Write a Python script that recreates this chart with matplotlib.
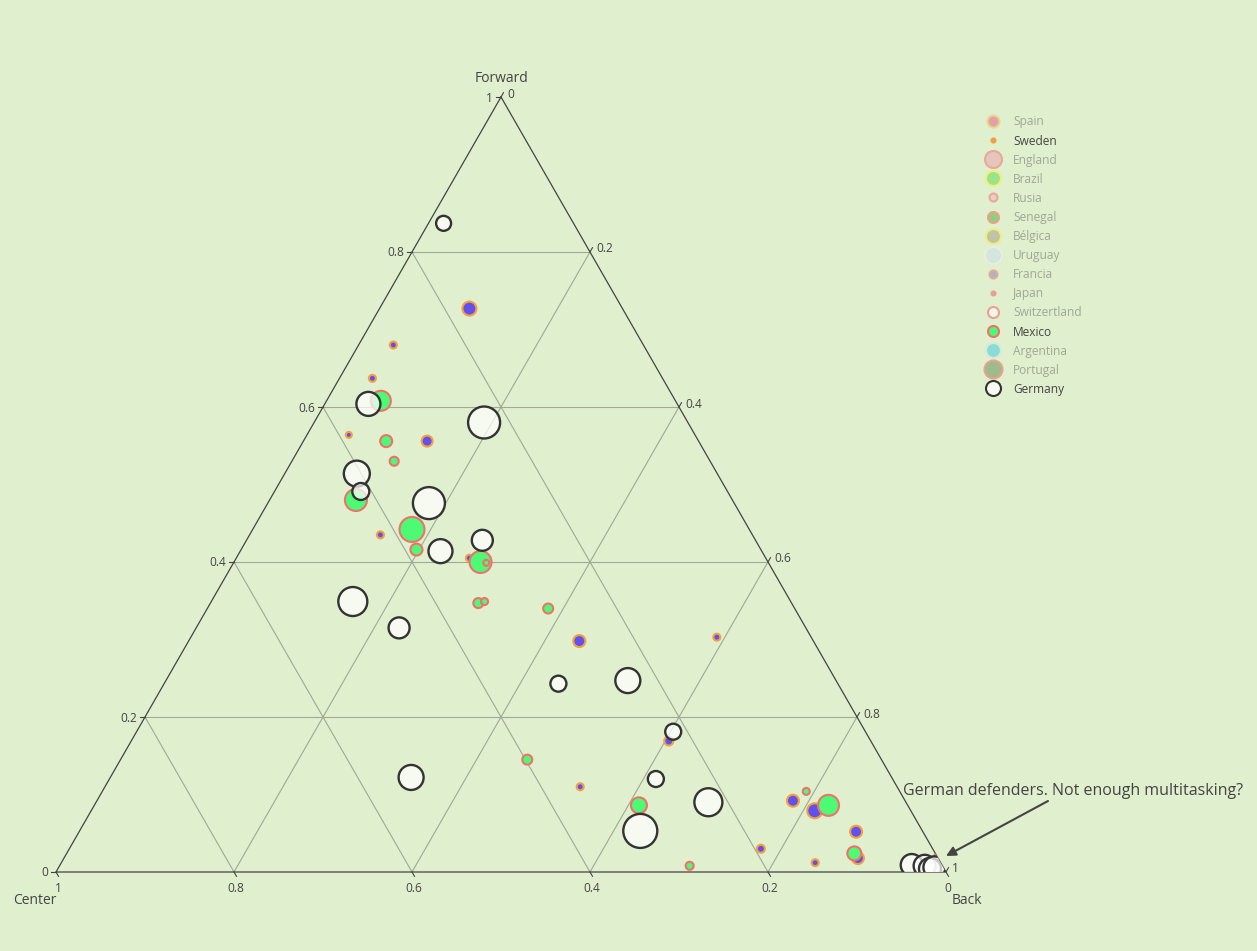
import numpy as np
import matplotlib
matplotlib.use("Agg")
import matplotlib.pyplot as plt
from matplotlib.patches import Polygon

plt.rcParams['font.family'] = ['Open Sans', 'DejaVu Sans']

# ---- data (forward, center, back shares) ----
germany_forward = [0.837, 0.604, 0.580, 0.514, 0.491, 0.476, 0.428, 0.414, 0.349, 0.315, 0.243,
                   0.247, 0.181, 0.122, 0.120, 0.090, 0.053, 0.009, 0.008, 0.004, 0.006]
germany_center = [0.146, 0.347, 0.229, 0.405, 0.412, 0.343, 0.307, 0.361, 0.492, 0.457, 0.314,
                  0.234, 0.216, 0.540, 0.266, 0.222, 0.317, 0.034, 0.020, 0.016, 0.010]
germany_back = [0.017, 0.049, 0.191, 0.081, 0.097, 0.181, 0.265, 0.225, 0.159, 0.228, 0.443,
                0.519, 0.603, 0.338, 0.614, 0.688, 0.630, 0.957, 0.972, 0.980, 0.984]
germany_size = [15, 24, 32, 26, 17, 32, 21, 24, 29, 21, 16, 25, 16, 25, 16, 28, 34, 22, 22, 22, 22]

mexico_forward = [0.608, 0.556, 0.530, 0.480, 0.442, 0.416, 0.400, 0.399, 0.347, 0.349, 0.340,
                  0.145, 0.086, 0.008, 0.086, 0.104, 0.024, 0.020]
mexico_center = [0.331, 0.351, 0.355, 0.423, 0.379, 0.387, 0.323, 0.317, 0.352, 0.344, 0.277,
                 0.398, 0.302, 0.284, 0.089, 0.105, 0.091, 0.000]
mexico_back = [0.061, 0.093, 0.115, 0.097, 0.179, 0.197, 0.277, 0.284, 0.301, 0.307, 0.383,
               0.457, 0.612, 0.708, 0.825, 0.791, 0.885, 0.980]
mexico_size = [20, 12, 9, 22, 25, 12, 22, 6, 10, 7, 10, 10, 16, 8, 21, 7, 14, 6]

sweden_forward = [0.727, 0.680, 0.637, 0.564, 0.556, 0.435, 0.405, 0.298, 0.303, 0.169, 0.110,
                  0.092, 0.079, 0.052, 0.018, 0.030, 0.012]
sweden_center = [0.172, 0.281, 0.326, 0.389, 0.305, 0.418, 0.333, 0.263, 0.106, 0.227, 0.356,
                 0.126, 0.108, 0.075, 0.090, 0.193, 0.141]
sweden_back = [0.101, 0.039, 0.037, 0.047, 0.139, 0.147, 0.262, 0.439, 0.591, 0.604, 0.534,
               0.782, 0.813, 0.873, 0.892, 0.777, 0.847]
sweden_size = [14, 7, 7, 6, 11, 7, 7, 12, 7, 9, 7, 12, 15, 12, 12, 8, 7]

legend_names = ['Spain', 'Sweden', 'England', 'Brazil', 'Rusia', 'Senegal', 'Bélgica', 'Uruguay',
                'Francia', 'Japan', 'Switzertland', 'Mexico', 'Argentina', 'Portugal', 'Germany']
legend_face = ['#e3a0a8', '#f0a040', '#e5c5bc', '#9be38a', '#e4d2c4', '#8fcf7d', '#c0c4a4', '#d4e5dd',
               '#a8b4c8', '#e8a090', '#f0f4ec', '#4dfa73', '#8adcd4', '#9cbc8c', '#f7f9f2']
legend_edge = ['#e8d68e', '#f0a040', '#eba898', '#eef07a', '#eba898', '#eba090', '#eeee80', '#e6eee0',
               '#e8a898', '#e8a090', '#eba090', '#f07070', '#d8eadc', '#eba090', '#333333']
legend_size = [12, 4, 17, 15, 8, 11, 15, 17, 8, 4, 11, 11, 15, 18, 15]
legend_on = ['Sweden', 'Mexico', 'Germany']

ticks = [0, 0.2, 0.4, 0.6, 0.8, 1]

# ---- layout ----
BG = '#e0efcd'
W, H = 1257, 951
TOP = np.array([501.0, 97.0])
LEFT = np.array([56.0, 872.0])
RIGHT = np.array([946.0, 872.0])
TXT = '#444444'


def to_xy(a, b, c):
    a, b, c = np.asarray(a, float), np.asarray(b, float), np.asarray(c, float)
    s = a + b + c
    a, b, c = a / s, b / s, c / s
    x = a * TOP[0] + b * LEFT[0] + c * RIGHT[0]
    y = a * TOP[1] + b * LEFT[1] + c * RIGHT[1]
    return x, y


def px2pt(d):
    return (np.asarray(d, float) * 0.72) ** 2


fig = plt.figure(figsize=(W / 100, H / 100), dpi=100, facecolor=BG)
ax = fig.add_axes([0, 0, 1, 1])
ax.set_xlim(0, W)
ax.set_ylim(H, 0)
ax.axis('off')
ax.set_facecolor(BG)

# grid
grid_c = '#a0a896'
for v in ticks[1:-1]:
    for p, q in [((v, 1 - v, 0), (v, 0, 1 - v)),
                 ((0, v, 1 - v), (1 - v, v, 0)),
                 ((0, 1 - v, v), (1 - v, 0, v))]:
        x1, y1 = to_xy(*p)
        x2, y2 = to_xy(*q)
        ax.plot([x1, x2], [y1, y2], color=grid_c, lw=0.8, zorder=1)

# triangle edges
tri = np.array([TOP, RIGHT, LEFT, TOP])
ax.plot(tri[:, 0], tri[:, 1], color=TXT, lw=0.9, zorder=2)

# ticks and labels
dir_b = (RIGHT - TOP) / np.linalg.norm(RIGHT - TOP)
dir_c = (TOP - LEFT) / np.linalg.norm(TOP - LEFT)
for v in ticks:
    lab = f"{v:g}"
    x, y = to_xy(v, 1 - v, 0)
    ax.plot([x - 5, x], [y, y], color=TXT, lw=0.8)
    ax.text(x - 8, y + 1, lab, ha='right', va='center', fontsize=8.6, color=TXT)
    x, y = to_xy(0, v, 1 - v)
    ax.plot([x, x + 5 * dir_b[0]], [y, y + 5 * dir_b[1]], color=TXT, lw=0.8)
    ax.text(x + 2, y + 17, lab, ha='center', va='center', fontsize=8.6, color=TXT)
    x, y = to_xy(1 - v, 0, v)
    ax.plot([x, x + 5 * dir_c[0]], [y, y + 5 * dir_c[1]], color=TXT, lw=0.8)
    ax.text(x + 6, y - 3, lab, ha='left', va='center', fontsize=8.6, color=TXT)

ax.text(TOP[0], 78, 'Forward', ha='center', va='center', fontsize=10, color=TXT)
ax.text(35, 900, 'Center', ha='center', va='center', fontsize=10, color=TXT)
ax.text(967, 900, 'Back', ha='center', va='center', fontsize=10, color=TXT)

# data traces, clipped to the triangle
clip = Polygon([TOP, RIGHT, LEFT], closed=True, transform=ax.transData, facecolor='none', edgecolor='none')
ax.add_patch(clip)

x, y = to_xy(sweden_forward, sweden_center, sweden_back)
sc = ax.scatter(x, y, s=px2pt(sweden_size), facecolor='#6050f0', edgecolor='#f5a040', linewidths=1.5, zorder=3)
sc.set_clip_path(clip)

x, y = to_xy(mexico_forward, mexico_center, mexico_back)
sc = ax.scatter(x, y, s=px2pt(mexico_size), facecolor='#4dfa73', edgecolor='#f07070', linewidths=1.5, zorder=4)
sc.set_clip_path(clip)

x, y = to_xy(germany_forward, germany_center, germany_back)
sc = ax.scatter(x, y, s=px2pt(germany_size), facecolor=(1, 1, 1, 0.72), edgecolor='#333333', linewidths=1.7, zorder=5)
sc.set_clip_path(clip)

# annotation
ax.text(1073, 791, 'German defenders. Not enough multitasking?', ha='center', va='center',
        fontsize=11.5, color=TXT)
ax.annotate('', xy=(946, 856), xytext=(1048, 801),
            arrowprops=dict(arrowstyle='-|>', color=TXT, lw=1.5, shrinkA=0, shrinkB=0, mutation_scale=14))

# legend
for i, name in enumerate(legend_names):
    ly = 121 + 19.1 * i
    on = name in legend_on
    ax.scatter([993], [ly], s=px2pt(legend_size[i]), facecolor=legend_face[i], edgecolor=legend_edge[i],
               linewidths=1.5, zorder=6)
    ax.text(1013, ly + 1, name, ha='left', va='center', fontsize=8.6, color=TXT if on else '#9ea895')

fig.savefig('out.png', dpi=100, facecolor=BG)
